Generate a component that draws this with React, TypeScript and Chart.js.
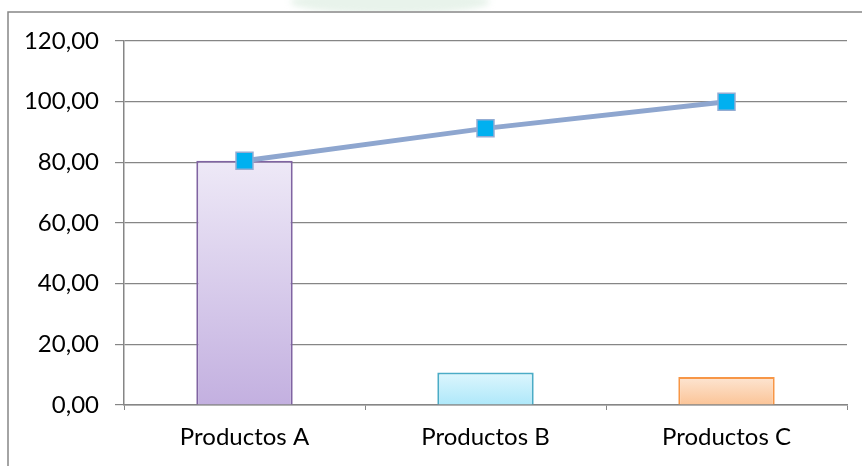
import React, { useEffect, useRef } from "react";
import { Chart, registerables } from "chart.js";

Chart.register(...registerables);

const categories = ["Productos A", "Productos B", "Productos C"];
const shareValues = [80.5, 10.7, 9.2];
const cumulativeValues = [80.5, 91.2, 100];
const yTicks = { min: 0, max: 120, step: 20 };

const barTopColors = ["#EEE9F7", "#DDF6FD", "#FDE5D2"];
const barBottomColors = ["#C3B0E0", "#AEE8FA", "#FBC497"];
const barBorderColors = ["#8064A2", "#4BACC6", "#F79646"];

const formatTick = (v: number) => v.toFixed(2).replace(".", ",");

const framePlugin = {
  id: "frame",
  beforeDraw(chart: any) {
    const ctx = chart.ctx as CanvasRenderingContext2D;
    ctx.save();
    // faint backdrop shape above the frame
    ctx.filter = "blur(3px)";
    ctx.fillStyle = "rgba(214, 233, 219, 0.55)";
    ctx.beginPath();
    ctx.ellipse(390, 2, 100, 12, 0, 0, Math.PI * 2);
    ctx.fill();
    ctx.filter = "none";
    ctx.fillStyle = "#ffffff";
    ctx.fillRect(0, 11, chart.width, chart.height - 11);
    // frame on left and top
    ctx.strokeStyle = "#878787";
    ctx.lineWidth = 1.5;
    ctx.beginPath();
    ctx.moveTo(8, chart.height);
    ctx.lineTo(8, 12);
    ctx.lineTo(chart.width, 12);
    ctx.stroke();
    ctx.restore();
  },
};

export default function App() {
  const canvasRef = useRef<HTMLCanvasElement | null>(null);

  useEffect(() => {
    document.body.style.margin = "0";
    const canvas = canvasRef.current;
    if (!canvas) return;

    const barGradient = (context: any) => {
      const chart = context.chart;
      const i = context.dataIndex;
      const area = chart.chartArea;
      if (!area || i === undefined) return barTopColors[0];
      const yScale = chart.scales.y;
      const top = yScale.getPixelForValue(shareValues[i]);
      const bottom = yScale.getPixelForValue(0);
      const g = chart.ctx.createLinearGradient(0, top, 0, bottom);
      g.addColorStop(0, barTopColors[i]);
      g.addColorStop(1, barBottomColors[i]);
      return g;
    };

    const chart = new Chart(canvas, {
      type: "bar",
      data: {
        labels: categories,
        datasets: [
          {
            type: "line",
            label: "Acumulado",
            data: cumulativeValues,
            borderColor: "#8EA6CF",
            borderWidth: 5,
            pointStyle: "rect",
            pointRadius: 12,
            pointHoverRadius: 12,
            pointBackgroundColor: "#00B0F0",
            pointBorderColor: "#93ACD3",
            pointBorderWidth: 1.5,
            tension: 0,
            order: 0,
          },
          {
            type: "bar",
            label: "Porcentaje",
            data: shareValues,
            backgroundColor: barGradient,
            borderColor: barBorderColors,
            borderWidth: 2,
            categoryPercentage: 1,
            barPercentage: 0.4,
            order: 1,
          },
        ],
      },
      options: {
        responsive: false,
        animation: false,
        devicePixelRatio: 1,
        layout: { padding: { top: 41, right: 15, bottom: 21, left: 0 } },
        plugins: {
          legend: { display: false },
          tooltip: { enabled: false },
        },
        scales: {
          x: {
            grid: {
              display: true,
              drawOnChartArea: false,
              drawTicks: true,
              tickLength: 5,
              offset: true,
              color: "#868686",
            },
            border: { display: true, color: "#868686", width: 1.5 },
            ticks: {
              color: "#000000",
              padding: 13,
              font: { family: "Lato", size: 24 },
            },
            afterFit(scale: any) {
              scale.height = 40;
            },
          },
          y: {
            min: yTicks.min,
            max: yTicks.max,
            grid: {
              color: "#868686",
              lineWidth: 1.2,
              drawTicks: true,
              tickLength: 9,
            },
            border: { display: true, color: "#868686", width: 1.5 },
            ticks: {
              stepSize: yTicks.step,
              color: "#000000",
              padding: 16,
              font: { family: "Lato", size: 24 },
              callback: (v: any) => formatTick(Number(v)),
            },
            afterFit(scale: any) {
              scale.width = 124;
            },
          },
        },
      },
      plugins: [framePlugin],
    });

    return () => chart.destroy();
  }, []);

  return (
    <div style={{ position: "fixed", left: 0, top: 0, width: 862, height: 466, background: "#fff" }}>
      <canvas ref={canvasRef} width={862} height={466} />
    </div>
  );
}
